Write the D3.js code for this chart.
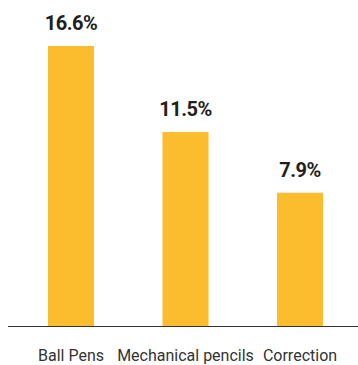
<!DOCTYPE html>
<html><head><meta charset="utf-8">
<script src="https://cdn.jsdelivr.net/npm/d3@7"></script>
<style>html,body{margin:0;padding:0;background:#fff;}</style>
</head><body>
<svg id="chart" width="358" height="365"></svg>
<script>
const categories = ["Ball Pens", "Mechanical pencils", "Correction"];
const values = [16.6, 11.5, 7.9];
const valueLabels = ["16.6%", "11.5%", "7.9%"];

const svg = d3.select("#chart");
const baseY = 326;
const x = d3.scaleBand().domain(categories).range([13.75, 357.25]).paddingInner(0.598).paddingOuter(0.299);
const y = d3.scaleLinear().domain([0, 16.6]).range([baseY, 46]);

svg.selectAll("rect.bar").data(values).join("rect")
  .attr("class", "bar")
  .attr("x", (d, i) => x(categories[i]))
  .attr("width", x.bandwidth())
  .attr("y", d => y(d))
  .attr("height", d => baseY - y(d))
  .attr("fill", "#FBBC2E");

svg.append("line").attr("x1", 8).attr("x2", 358).attr("y1", baseY + 0.5).attr("y2", baseY + 0.5)
  .attr("stroke", "#333").attr("stroke-width", 1.2);

svg.selectAll("text.val").data(values).join("text")
  .attr("class", "val")
  .attr("x", (d, i) => x(categories[i]) + x.bandwidth() / 2)
  .attr("y", d => y(d) - 16)
  .attr("text-anchor", "middle")
  .attr("font-family", "Roboto, sans-serif")
  .attr("font-weight", "bold")
  .attr("font-size", 20)
  .attr("letter-spacing", -0.5)
  .attr("fill", "#231f20")
  .text((d, i) => valueLabels[i]);

svg.selectAll("text.cat").data(categories).join("text")
  .attr("class", "cat")
  .attr("x", d => x(d) + x.bandwidth() / 2)
  .attr("y", 361)
  .attr("text-anchor", "middle")
  .attr("font-family", "Roboto, sans-serif")
  .attr("font-size", 16)
  .attr("fill", "#333")
  .text(d => d);
</script>
</body></html>
